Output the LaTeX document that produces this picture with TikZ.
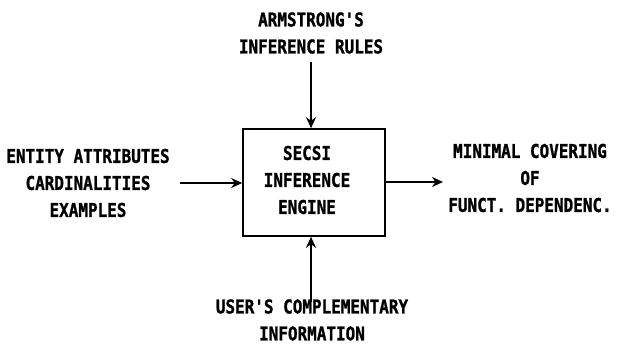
\documentclass[tikz,border=0pt]{standalone}
\usepackage{fontspec}
\usetikzlibrary{arrows.meta}
\newfontfamily\plotterfont[FakeStretch=0.84,FakeBold=1.2]{DejaVu Sans Mono Bold}
\tikzset{
  lbl/.style={align=center, inner sep=0pt,
    font=\plotterfont\fontsize{19}{27}\selectfont},
  enginebox/.style={draw, line width=1.6pt, minimum width=142pt,
    minimum height=107pt, inner sep=0pt},
  flow/.style={line width=1.8pt, -{Stealth[length=11pt,width=10pt]}}
}
\begin{document}
\begin{tikzpicture}[x=1pt,y=-1pt]
  \useasboundingbox (0,0) rectangle (617,347);
  % central processor
  \node[enginebox] (engine) at (314,182.5) {};
  \node[lbl] (enginetxt) at (307,180) {SECSI\\INFERENCE\\ENGINE};
  % inputs and output
  \node[lbl] (rules) at (311,33) {ARMSTRONG'S\\INFERENCE RULES};
  \node[lbl] (inputs) at (88,183) {ENTITY ATTRIBUTES\\CARDINALITIES\\EXAMPLES};
  \node[lbl] (user) at (312,320) {USER'S COMPLEMENTARY\\INFORMATION};
  \node[lbl] (cover) at (530,178) {MINIMAL COVERING\\OF\\FUNCT. DEPENDENC.};
  % connectors
  \coordinate (rulesend) at (311,62);
  \coordinate (inputsend) at (180,183);
  \coordinate (userend) at (311,302);
  \coordinate (coverend) at (443,182);
  \draw[flow] (rulesend) -- (rulesend |- engine.north);
  \draw[flow] (inputsend) -- (inputsend -| engine.west);
  \draw[flow] (userend) -- (userend |- engine.south);
  \draw[flow] (coverend -| engine.east) -- (coverend);
\end{tikzpicture}
\end{document}
